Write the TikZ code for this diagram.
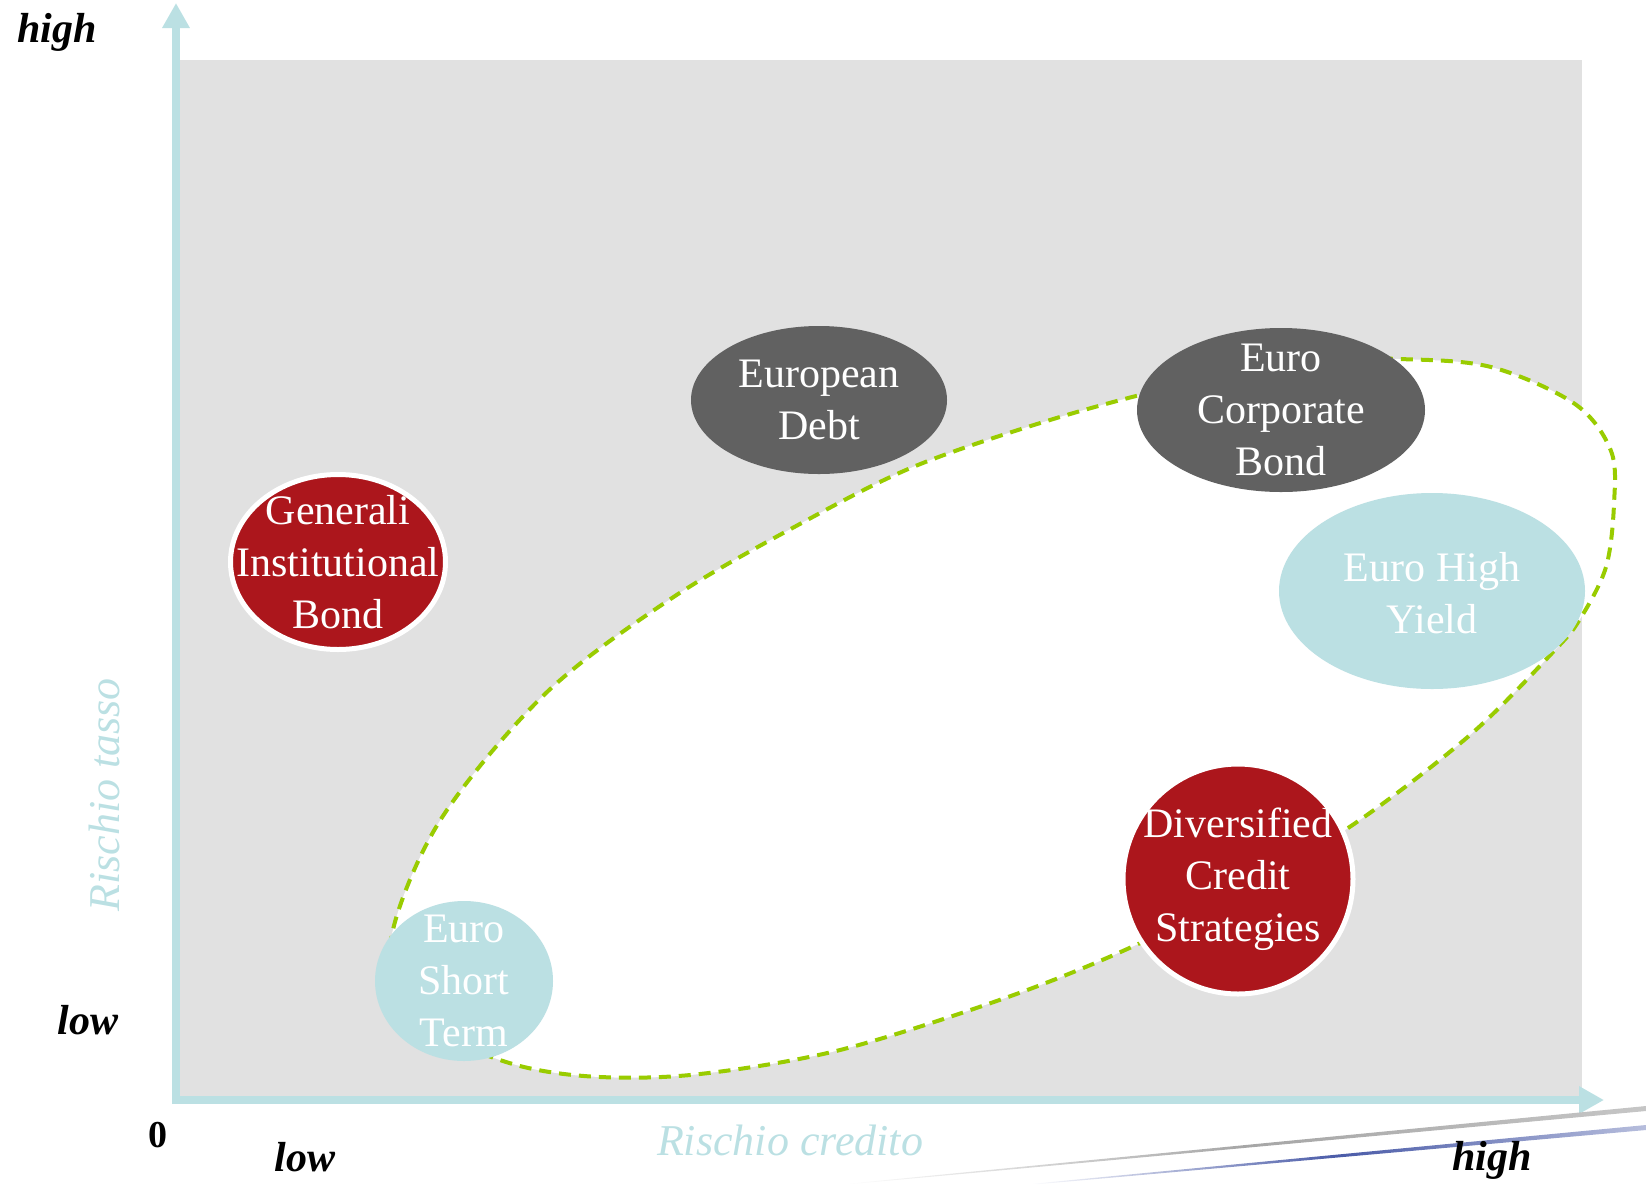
\documentclass[tikz,border=0pt]{standalone}
\usepackage{fontspec}
\setmainfont{Liberation Serif}
\usetikzlibrary{arrows.meta}
\definecolor{lblue}{HTML}{BBE0E3}
\definecolor{dgrey}{HTML}{616161}
\definecolor{gred}{HTML}{AC161C}
\definecolor{bggrey}{HTML}{E1E1E1}
\definecolor{lgreen}{HTML}{99CC00}
\definecolor{swblue}{HTML}{4A5BA8}
\begin{document}
\begin{tikzpicture}[x=1pt,y=-1pt,
  bubtxt/.style={text=white, align=center, font=\fontsize{42}{52}\selectfont, inner sep=0pt},
  axlab/.style={font=\fontsize{42}{50}\selectfont\bfseries\itshape, text=black, inner sep=0pt},
  axtitle/.style={font=\fontsize{44}{50}\selectfont\itshape, text=lblue, inner sep=0pt},
  axisline/.style={draw=lblue, line width=8pt, -{Triangle[length=25pt,width=26pt]}},
  darkbub/.style={fill=dgrey},
  bluebub/.style={fill=lblue},
  redbub/.style={fill=gred, draw=white, line width=5pt},
  zone/.style={fill=white, draw=lgreen, line width=4pt, dash pattern=on 12pt off 8pt}
]
\useasboundingbox (0,0) rectangle (1646,1184);
% background panel
\fill[bggrey] (180,60) rectangle (1582,1096);
% dashed zone
\draw[zone] plot[smooth cycle, tension=0.55] coordinates {
  (392,934) (441,819) (546,693) (672,598) (798,525) (913,467) (1050,420)
  (1180,385) (1300,360) (1399,359) (1491,367) (1575,404) (1611,451)
  (1614,504) (1606,567) (1580,619) (1554,651) (1470,735) (1354,824)
  (1245,888) (1136,945) (1008,997) (840,1050) (700,1074) (600,1077)
  (520,1066) (450,1038) (405,995)};
% axes
\coordinate (O) at (176,1100);
\coordinate (ytip) at (176,3);
\coordinate (xtip) at (1604,1100);
\draw[axisline] (176,1104) -- (ytip);
\draw[axisline] (O) -- (xtip);
% swooshes
\shade[left color=white, right color=gray!45, middle color=gray!70]
  (845,1184) -- (1646,1106) -- (1646,1111) -- (852,1184) -- cycle;
\shade[left color=white, right color=swblue!40, middle color=swblue]
  (1030,1184) -- (1646,1125) -- (1646,1130) -- (1040,1184) -- cycle;
% bubbles
\fill[darkbub] (819,400) ellipse [x radius=128, y radius=74];
\node[bubtxt] (ed) at (819,400) {European\\Debt};
\fill[darkbub] (1281,410) ellipse [x radius=144, y radius=82];
\node[bubtxt] (ecb) at (1281,410) {Euro\\Corporate\\Bond};
\fill[bluebub] (1432,591) ellipse [x radius=153, y radius=98];
\node[bubtxt] (ehy) at (1432,593) {Euro High\\Yield};
\filldraw[redbub] (338,562) ellipse [x radius=107.5, y radius=87.5];
\node[bubtxt] (gib) at (338,562) {Generali\\Institutional\\Bond};
\fill[bluebub] (464,981) ellipse [x radius=89, y radius=80];
\node[bubtxt] (est) at (464,981) {Euro\\Short\\Term};
\filldraw[redbub] (1238,879) circle [radius=115];
\node[bubtxt] (dcs) at (1238,879) {Diversified\\Credit\\Strategies};
% axis labels
\node[axlab] (yhigh) at (57,32) {high};
\node[axlab] (ylow) at (88,1020) {low};
\node[font=\fontsize{38}{44}\selectfont\bfseries, inner sep=0pt] (zero) at (158,1135) {0};
\node[axlab] (xlow) at (305,1157) {low};
\node[axlab] (xhigh) at (1492,1160) {high};
\node[axtitle] (xt) at (790,1140) {Rischio credito};
\node[axtitle, rotate=90] (yt) at (104,795) {Rischio tasso};
\end{tikzpicture}
\end{document}
